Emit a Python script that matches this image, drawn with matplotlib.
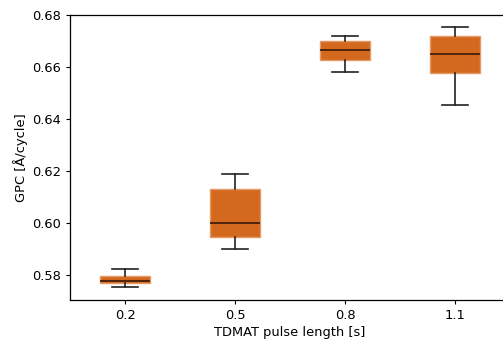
import matplotlib
matplotlib.use('Agg')
import matplotlib.pyplot as plt

# Pulse lengths and box statistics of GPC per pulse length
pulse_labels = ['0.2', '0.5', '0.8', '1.1']
whisker_low = [0.5753, 0.5899, 0.6581, 0.6453]
q1 = [0.5768, 0.5945, 0.6627, 0.6577]
medians = [0.5778, 0.6000, 0.6665, 0.6651]
q3 = [0.5796, 0.6131, 0.6699, 0.6719]
whisker_high = [0.5824, 0.6189, 0.6720, 0.6755]

plt.rcParams['font.size'] = 9.4
plt.rcParams['xtick.major.size'] = 2.8
plt.rcParams['ytick.major.size'] = 2.8
plt.rcParams['xtick.major.pad'] = 3.5
plt.rcParams['ytick.major.pad'] = 3.5

stats = []
for lbl, lo, a, m, b, hi in zip(pulse_labels, whisker_low, q1, medians, q3, whisker_high):
    stats.append({'label': lbl, 'whislo': lo, 'q1': a, 'med': m, 'q3': b, 'whishi': hi, 'fliers': []})

fig = plt.figure(figsize=(5.03, 3.4), dpi=100)
ax = fig.add_axes([70 / 503, 1 - 300 / 340, 440 / 503, 285 / 340])

ax.bxp(stats, widths=0.46, patch_artist=True, showfliers=False,
       boxprops=dict(facecolor='#D2691E', edgecolor='#E59A66', linewidth=1),
       medianprops=dict(color='#3B1805', linewidth=1.2),
       whiskerprops=dict(color='#222222', linewidth=1.2),
       capprops=dict(color='#222222', linewidth=1.2))

for side in ax.spines.values():
    side.set_linewidth(0.9)

ax.set_xlim(0.5, 4.5)
ax.set_ylim(0.5704, 0.68)
ax.set_yticks([0.58, 0.60, 0.62, 0.64, 0.66, 0.68])
ax.set_xlabel('TDMAT pulse length [s]', labelpad=3)
ax.set_ylabel('GPC [Å/cycle]', labelpad=3)

fig.savefig('out.png', dpi=100)
